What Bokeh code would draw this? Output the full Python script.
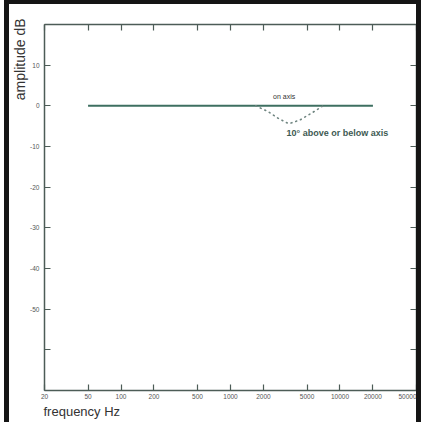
from bokeh.plotting import figure
from bokeh.models import Range1d, FixedTicker, LinearAxis, LogAxis, Label, Title
from bokeh.embed import file_html
from bokeh.resources import INLINE

# ---- data ----
x_ticks = [20, 50, 100, 200, 500, 1000, 2000, 5000, 10000, 20000, 50000]
x_tick_labels = ["20", "50", "100", "200", "500", "1000", "2000", "5000", "10000", "20000", "50000"]
y_ticks = [-70, -60, -50, -40, -30, -20, -10, 0, 10, 20]
y_tick_labels = ["", "", "-50", "-40", "-30", "-20", "-10", "0", "10", ""]

on_axis_freq = [50, 20000]
on_axis_db = [0, 0]
off_axis_freq = [1700, 2200, 2700, 3400, 4300, 5500, 7000]
off_axis_db = [0, -1.4, -3.0, -4.4, -3.5, -1.8, 0]

FONT = "Liberation Sans"
AXIS_COL = "#4d5c57"
LINE_COL = "#3e6f61"

p = figure(width=417, height=422, x_axis_type="log",
           x_range=Range1d(20, 50000), y_range=Range1d(-70, 20),
           output_backend="svg", toolbar_location=None,
           min_border_left=35, min_border_right=10,
           min_border_top=20, min_border_bottom=36)
p.styles = {"margin-left": "4px",
            "border-left": "5px solid #151515",
            "border-right": "5px solid #151515",
            "border-top": "4px solid #151515"}
p.xgrid.visible = False
p.ygrid.visible = False
p.outline_line_color = None
p.background_fill_color = "white"
p.border_fill_color = "white"


def style_axis(ax):
    ax.major_tick_in = 6
    ax.major_tick_out = 0
    ax.minor_tick_in = 0
    ax.minor_tick_out = 0
    ax.axis_line_color = AXIS_COL
    ax.axis_line_width = 1.5
    ax.major_tick_line_color = AXIS_COL
    ax.major_tick_line_width = 1.2
    ax.major_label_text_font = FONT
    ax.major_label_text_font_size = "6.5px"
    ax.major_label_text_color = "#555555"
    ax.major_label_standoff = 4


# bottom axis
xb = p.xaxis[0]
xb.ticker = FixedTicker(ticks=x_ticks, minor_ticks=[])
xb.major_label_overrides = {t: l for t, l in zip(x_ticks, x_tick_labels)}
style_axis(xb)
xb.major_label_standoff = 3

# left axis
yl = p.yaxis[0]
yl.ticker = FixedTicker(ticks=y_ticks, minor_ticks=[])
yl.major_label_overrides = {t: l for t, l in zip(y_ticks, y_tick_labels)}
style_axis(yl)
yl.major_label_standoff = 5

# top axis (no labels)
xt = LogAxis(ticker=FixedTicker(ticks=x_ticks, minor_ticks=[]),
             major_label_overrides={t: "" for t in x_ticks})
style_axis(xt)
xt.major_label_standoff = 0
p.add_layout(xt, "above")

# right axis (no labels)
yr = LinearAxis(ticker=FixedTicker(ticks=y_ticks, minor_ticks=[]),
                major_label_overrides={t: "" for t in y_ticks})
style_axis(yr)
yr.major_label_standoff = 0
p.add_layout(yr, "right")

# axis titles, placed as side titles so they can be aligned to one end
p.add_layout(Title(text="amplitude dB", align="right", offset=-6,
                   text_font=FONT, text_font_size="14px",
                   text_font_style="normal", text_color="#333333",
                   standoff=0), "left")
p.add_layout(Title(text="frequency Hz", align="left", offset=-1,
                   text_font=FONT, text_font_size="13px",
                   text_font_style="normal", text_color="#333333",
                   standoff=0), "below")

# data
p.line(on_axis_freq, on_axis_db, line_color=LINE_COL, line_width=2)
p.line(off_axis_freq, off_axis_db, line_color="#6f8580", line_width=1.6,
       line_dash="1 4", line_cap="round")

# annotations inside the frame
p.add_layout(Label(x=2450, y=1.4, text="on axis", text_font=FONT,
                   text_font_size="7px", text_color="#333333",
                   text_baseline="bottom", text_align="left"))
p.add_layout(Label(x=3250, y=-7.8, text="10° above or below axis", text_font=FONT,
                   text_font_size="9px", text_font_style="bold",
                   text_color="#3e5a52",
                   text_baseline="bottom", text_align="left"))

open("out.html", "w").write(file_html(p, INLINE))
